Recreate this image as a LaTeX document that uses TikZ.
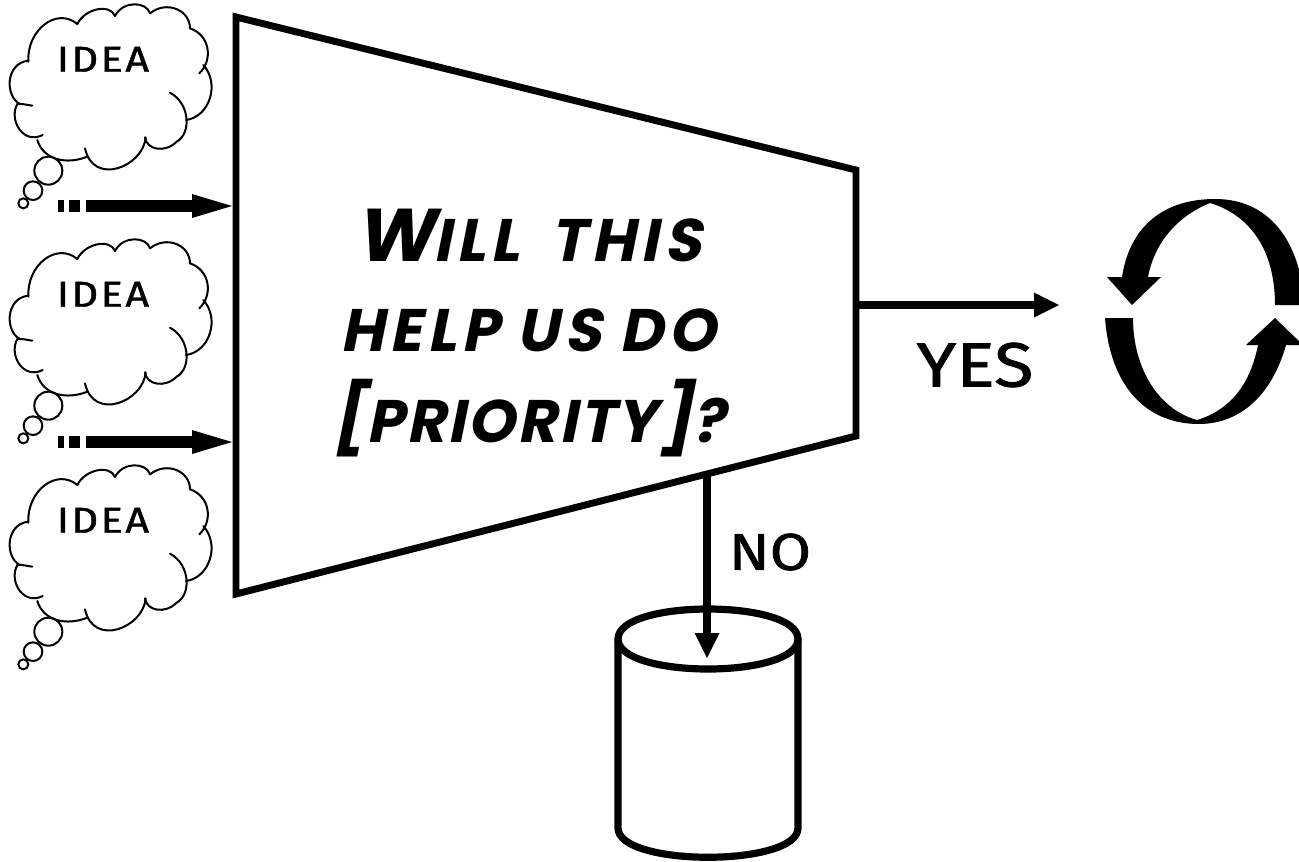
\documentclass[tikz,border=0pt]{standalone}
\usepackage{fontspec}
\setmainfont{TeX Gyre Heros}
\usetikzlibrary{arrows.meta}
\newfontfamily\handfont[FakeSlant=0.2,LetterSpace=9]{Poppins Bold}
\newfontfamily\handtight[FakeSlant=0.2,LetterSpace=4]{Poppins Bold}
\newfontfamily\markfont[FakeBold=1.2,FakeStretch=1.15]{Fira Sans}
\newfontfamily\ideafont[FakeBold=1.2,FakeStretch=1.15,LetterSpace=7]{Fira Sans}
\newcommand{\bigletter}[1]{{\fontsize{56}{68}\selectfont #1}}
\newcommand{\bracketletter}[1]{{\fontsize{52}{68}\selectfont #1}}
\tikzset{
  x=0.75pt,y=-0.75pt,
  thick line/.style={line width=5.2pt,line join=miter},
  cloudline/.style={line width=1.5pt,line cap=round,line join=round},
  flow/.style={line width=5.8pt},
  lab/.style={inner sep=0pt,font=\markfont},
  bubble/.style={circle,draw,inner sep=0pt},
  main text/.style={inner sep=0pt,align=center,font=\handfont\fontsize{45}{68}\selectfont}
}
\newcommand{\thoughtcloud}[3]{%
\begin{scope}[shift={(#1,#2)},x=0.25pt,y=-0.25pt,cloudline]
  \draw (85,185) .. controls (80,90) and (170,20) .. (232,72);
  \draw (232,72) .. controls (255,25) and (330,10) .. (345,48);
  \draw (345,48) .. controls (370,0) and (440,5) .. (450,40);
  \draw (450,40) .. controls (500,0) and (570,30) .. (570,85);
  \draw (570,85) .. controls (630,105) and (640,180) .. (598,220);
  \draw (610,195) .. controls (660,250) and (630,350) .. (558,360);
  \draw (510,278) .. controls (570,310) and (575,400) .. (530,425) .. controls (495,460) and (440,450) .. (435,412);
  \draw (437,412) .. controls (430,500) and (280,560) .. (255,445);
  \draw (262,470) .. controls (200,495) and (130,480) .. (112,420);
  \draw (128,405) .. controls (70,435) and (25,360) .. (52,312) .. controls (65,310) and (80,315) .. (97,317);
  \draw (60,312) .. controls (15,290) and (15,190) .. (85,182);
  \node[bubble,minimum size=21pt] (#3a) at (145,512) {};
  \node[bubble,minimum size=14pt] (#3b) at (99,572) {};
  \node[bubble,minimum size=7.5pt] (#3c) at (70,610) {};
  \node[lab,font=\ideafont\fontsize{27}{30}\selectfont] (#3t) at (309,178) {IDEA};
\end{scope}}
\newcommand{\inflow}[1]{%
  \fill (58,#1-6) rectangle (64,#1+6);
  \fill (69,#1-6) rectangle (80,#1+6);
  \fill (86,#1-6) rectangle (192,#1+6);
  \fill (192,#1-12) -- (232,#1) -- (192,#1+12) -- cycle;
}
\begin{document}
\begin{tikzpicture}
\useasboundingbox (0,0) rectangle (1299,861);
\clip (0,0) rectangle (1299,861);
% funnel
\draw[thick line] (236,17) -- (856,170) -- (856,436) -- (236,594) -- cycle;
% clouds
\thoughtcloud{0}{0}{ca}
\thoughtcloud{0}{235}{cb}
\thoughtcloud{0}{461}{cc}
\inflow{206}
\inflow{442}
% text
\node[main text] (q) at (528,333) {\bigletter{W}ILL \hspace{10pt}THIS\\HELP US DO\\{\handtight\bracketletter{[}PRIORITY\bracketletter{]}?}};
% yes arrow
\coordinate (yesA) at (858,305);
\coordinate (yesB) at (1036,305);
\draw[flow] (yesA) -- (yesB);
\fill (1034,292.5) -- (1059,305) -- (1034,317.5) -- cycle;
\node[lab,font=\markfont\fontsize{47}{50}\selectfont] (yes) at (975,365) {YES};
% no arrow
\coordinate (noA) at (707,474);
\coordinate (noB) at (707,636);
% cylinder
\draw[line width=5.4pt,line join=round] (618,639) .. controls (618,599) and (798,599) .. (798,639)
  -- (798,828) .. controls (798,867) and (618,867) .. (618,828) -- cycle;
\draw[line width=5.4pt] (618,639) .. controls (618,679) and (798,679) .. (798,639);
\draw[flow] (noA) -- (noB);
\fill (694.5,633) -- (707,658) -- (719.5,633) -- cycle;
\node[lab,font=\markfont\fontsize{39}{46}\selectfont] (no) at (770,552) {NO};
% cycle arrows
\fill (1304,305) .. controls (1302,250) and (1275,199) .. (1215,199)
  .. controls (1165,199) and (1130,225) .. (1122,277)
  -- (1107,277) -- (1132,305) -- (1161,277) -- (1148,277)
  .. controls (1155,240) and (1180,215) .. (1210,203)
  .. controls (1250,215) and (1275,250) .. (1275,305) -- cycle;
\fill (1105,318) .. controls (1110,385) and (1145,424) .. (1199,424)
  .. controls (1240,424) and (1272,395) .. (1286,345)
  -- (1303,345) -- (1275,318) -- (1246,345) -- (1258,345)
  .. controls (1250,385) and (1230,410) .. (1197,420)
  .. controls (1160,410) and (1133,370) .. (1133,318) -- cycle;
\end{tikzpicture}
\end{document}
